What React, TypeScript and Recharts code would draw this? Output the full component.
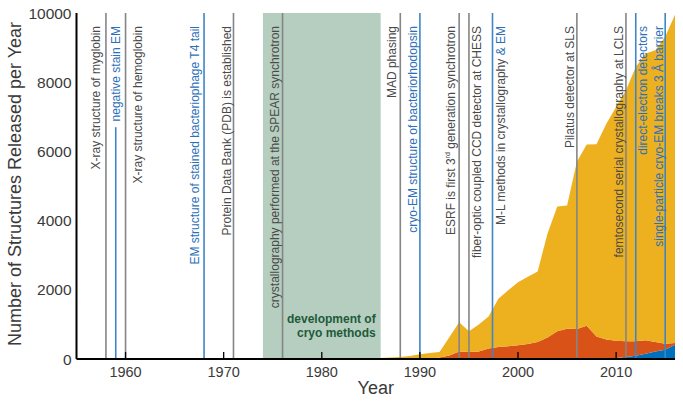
import React from 'react';
import { AreaChart, Area, XAxis, YAxis, ReferenceLine, ReferenceArea } from 'recharts';

// structures released per year, by method
const years = [
  1980, 1981, 1982, 1983, 1984, 1985, 1986, 1987, 1988, 1989, 1990, 1991, 1992, 1993, 1994, 1995,
  1996, 1997, 1998, 1999, 2000, 2001, 2002, 2003, 2004, 2005, 2006, 2007, 2008, 2009, 2010, 2011,
  2012, 2013, 2014, 2015, 2016,
];
const emCounts = [
  0, 0, 0, 0, 0, 0, 0, 0, 0, 0, 0, 0, 0, 0, 0, 0,
  0, 0, 0, 0, 10, 10, 10, 12, 15, 15, 15, 18, 20, 25, 30, 55,
  95, 150, 220, 270, 410,
];
const nmrCounts = [
  0, 0, 0, 0, 0, 0, 0, 0, 0, 0, 0, 0, 40, 100, 220, 200,
  220, 300, 345, 370, 390, 420, 480, 608, 785, 860, 850, 942, 630, 535, 500, 455,
  415, 390, 270, 170, 50,
];
const xrayCounts = [
  0, 5, 10, 15, 20, 25, 30, 40, 55, 90, 140, 170, 160, 530, 840, 600,
  780, 930, 1395, 1620, 1820, 1950, 2040, 3000, 3610, 3565, 4835, 5240, 5560, 6240, 6750, 7260,
  7930, 8290, 8430, 8870, 9490,
];

const xTicks = [1960, 1970, 1980, 1990, 2000, 2010];
const yTicks = [0, 2000, 4000, 6000, 8000, 10000];

// milestones: year, text, which method they concern
const eventYears = [1958, 1959, 1960, 1968, 1971, 1976, 1988, 1990, 1994, 1995, 1997.4, 2006, 2011, 2012, 2015];
const eventLabels = [
  'X-ray structure of myglobin',
  'negative stain EM',
  'X-ray structure of hemoglobin',
  'EM structure of stained bacteriophage T4 tail',
  'Protein Data Bank (PDB) is established',
  'crystallography performed at the SPEAR synchrotron',
  'MAD phasing',
  'cryo-EM structure of bacteriorhodopsin',
  'ESRF is first 3rd generation synchrotron',
  'fiber-optic coupled CCD detector at CHESS',
  'M-L methods in crystallography & EM',
  'Pilatus detector at SLS',
  'femtosecond serial crystallography at LCLS',
  'direct-electron detectors',
  'single-particle cryo-EM breaks 3 Å barrier',
];
const eventKinds = ['xray', 'em', 'xray', 'em', 'xray', 'xray', 'xray', 'em', 'xray', 'xray', 'both', 'xray', 'xray', 'em', 'em'];
const negativeStainLineTop = 6700;

const cryoPeriod = [1974, 1986];
const cryoLabel = ['development of', 'cryo methods'];

// layout
const labelOffsets = [-10, 0, 12, -9, -6, -8, -8, -7, -8, 8, 8, -7, -7, 7, -6];
const PLOT_TOP = 13;
const FONT = '"Liberation Sans", Arial, Helvetica, sans-serif';
const GRAY_LINE = '#858585';
const BLUE_LINE = '#3f86c6';
const GRAY_TEXT = '#4a4a4a';
const BLUE_TEXT = '#2d70b8';

const data = years.map((year, i) => ({
  year,
  em: emCounts[i],
  nmr: nmrCounts[i],
  xray: xrayCounts[i],
}));

function eventText(label: string, kind: string) {
  if (label.includes('3rd')) {
    const [a, b] = label.split('3rd');
    return (
      <>
        {a}3<tspan baselineShift="super" fontSize={7}>rd</tspan>
        <tspan>{b}</tspan>
      </>
    );
  }
  if (kind === 'both') {
    const [a, b] = label.split('&');
    return (
      <>
        {a}
        <tspan fill={BLUE_TEXT}>&amp;{b}</tspan>
      </>
    );
  }
  return label;
}

const BottomTick = (props: any) => {
  const { x, y, payload } = props;
  return (
    <g>
      <line x1={x} y1={y} x2={x} y2={y - 7} stroke="#000" strokeWidth={1.3} />
      <text x={x} y={y + 18} textAnchor="middle" fontSize={14.5} fontFamily={FONT} fill="#3a3a3a">
        {payload.value}
      </text>
    </g>
  );
};

const TopTick = (props: any) => {
  const { x, y } = props;
  return <line x1={x} y1={y} x2={x} y2={y + 7} stroke="#000" strokeWidth={1.3} />;
};

const LeftTick = (props: any) => {
  const { x, y, payload } = props;
  return (
    <text x={x - 5} y={y} textAnchor="end" dominantBaseline="central" fontSize={15.5} fontFamily={FONT} fill="#3a3a3a">
      {payload.value}
    </text>
  );
};

const RightTick = (props: any) => {
  const { x, y } = props;
  return <line x1={x} y1={y} x2={x - 7} y2={y} stroke="#000" strokeWidth={1.3} />;
};

export default function App() {
  return (
    <div style={{ position: 'absolute', left: 0, top: 0, width: 683, height: 401, background: '#fff' }}>
      <AreaChart width={683} height={401} data={data} margin={{ top: PLOT_TOP, right: 8, bottom: 0, left: 0 }}>
        <XAxis
          dataKey="year"
          type="number"
          domain={[1955, 2016]}
          ticks={xTicks}
          allowDataOverflow
          height={42}
          tickSize={0}
          tickMargin={0}
          tickLine={false}
          tick={<BottomTick />}
          axisLine={{ stroke: '#000', strokeWidth: 2 }}
          label={{
            content: (p: any) => {
              const vb = p.viewBox;
              return (
                <text x={vb.x + vb.width / 2} y={vb.y + 35} textAnchor="middle" fontSize={18} fontFamily={FONT} fill="#3a3a3a">
                  Year
                </text>
              );
            },
          }}
        />
        <XAxis
          xAxisId="top"
          orientation="top"
          type="number"
          domain={[1955, 2016]}
          ticks={xTicks}
          height={0}
          tickSize={0}
          tickMargin={0}
          tickLine={false}
          tick={<TopTick />}
          axisLine={{ stroke: '#000', strokeWidth: 1.5 }}
        />
        <YAxis
          type="number"
          domain={[0, 10000]}
          ticks={yTicks}
          width={76.5}
          tickSize={0}
          tickMargin={0}
          tickLine={false}
          tick={<LeftTick />}
          axisLine={{ stroke: '#000', strokeWidth: 2 }}
          label={{
            content: (p: any) => {
              const vb = p.viewBox;
              const cx = 15;
              const cy = vb.y + vb.height / 2 - 2;
              return (
                <text
                  x={cx}
                  y={cy}
                  transform={`rotate(-90 ${cx} ${cy})`}
                  textAnchor="middle"
                  dominantBaseline="central"
                  fontSize={18}
                  fontFamily={FONT}
                  fill="#3a3a3a"
                >
                  Number of Structures Released per Year
                </text>
              );
            },
          }}
        />
        <YAxis
          yAxisId="right"
          orientation="right"
          type="number"
          domain={[0, 10000]}
          ticks={yTicks}
          width={0}
          tickSize={0}
          tickMargin={0}
          tickLine={false}
          tick={<RightTick />}
          axisLine={{ stroke: '#000', strokeWidth: 1.5 }}
        />

        <ReferenceArea
          x1={cryoPeriod[0]}
          x2={cryoPeriod[1]}
          y1={0}
          y2={10000}
          fill="#b6cebf"
          fillOpacity={1}
          stroke="none"
          label={(p: any) => {
            const vb = p.viewBox;
            const rx = vb.x + vb.width - 5;
            const by = vb.y + vb.height;
            return (
              <text textAnchor="end" fontSize={12} fontWeight="bold" fontFamily={FONT} fill="#1e5a3a">
                <tspan x={rx} y={by - 36}>{cryoLabel[0]}</tspan>
                <tspan x={rx} y={by - 22}>{cryoLabel[1]}</tspan>
              </text>
            );
          }}
        />

        <Area type="linear" dataKey="em" stackId="s" stroke="none" fill="#0072BD" fillOpacity={1} isAnimationActive={false} dot={false} activeDot={false} />
        <Area type="linear" dataKey="nmr" stackId="s" stroke="none" fill="#D95319" fillOpacity={1} isAnimationActive={false} dot={false} activeDot={false} />
        <Area type="linear" dataKey="xray" stackId="s" stroke="none" fill="#EDB120" fillOpacity={1} isAnimationActive={false} dot={false} activeDot={false} />

        {eventYears.map((yr, i) => {
          const kind = eventKinds[i];
          const lineColor = kind === 'xray' ? GRAY_LINE : BLUE_LINE;
          const textColor = kind === 'em' ? BLUE_TEXT : GRAY_TEXT;
          const label = (p: any) => {
            const cx = p.viewBox.x + labelOffsets[i];
            const ty = PLOT_TOP + 13;
            return (
              <text
                x={cx}
                y={ty}
                transform={`rotate(-90 ${cx} ${ty})`}
                textAnchor="end"
                dominantBaseline="central"
                fontSize={12}
                fontFamily={FONT}
                fill={textColor}
              >
                {eventText(eventLabels[i], kind)}
              </text>
            );
          };
          if (i === 1) {
            return (
              <ReferenceLine
                key={i}
                segment={[{ x: yr, y: 0 }, { x: yr, y: negativeStainLineTop }]}
                stroke={lineColor}
                strokeWidth={1.6}
                label={label}
              />
            );
          }
          return <ReferenceLine key={i} x={yr} stroke={lineColor} strokeWidth={1.6} label={label} />;
        })}
      </AreaChart>
    </div>
  );
}
